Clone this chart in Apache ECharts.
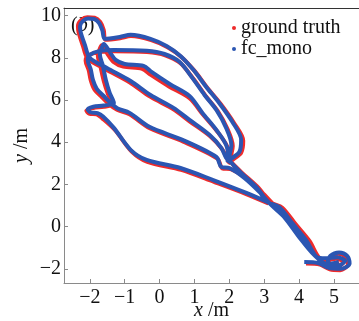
<!DOCTYPE html>
<html>
<head>
<meta charset="utf-8">
<script src="https://cdn.jsdelivr.net/npm/echarts@6/dist/echarts.min.js"></script>
<style>
html, body { margin: 0; padding: 0; background: #fff; }
#chart { width: 359px; height: 321px; }
</style>
</head>
<body>
<div id="chart"></div>
<script>
// 轨迹对比图 (b)

const seriesNames = ['ground truth', 'fc_mono'];
const xRange = [-2.74, 5.72];
const yRange = [-2.67, 10.36];

// fc_mono 轨迹, 分段读取
const fcPart1 = [[4.15,-1.67],[4.55,-1.72],[4.85,-1.95],[5.2,-2.0],[5.45,-1.75],[5.38,-1.38],[5.15,-1.22],[4.9,-1.38],[4.82,-1.72],[5.08,-1.88],[5.32,-1.62],[5.1,-1.45],[4.75,-1.5],[4.5,-1.42],[4.2,-0.63],[3.8,0.18],[3.43,0.93],[3.09,1.17],[2.77,1.88],[2.31,2.59],[2.06,3.02]];
const fcPart2 = [[1.91,3.26],[1.77,3.73],[1.43,4.35],[0.86,5.06],[0.4,5.63],[-0.26,6.24],[-0.83,6.9],[-1.51,7.52],[-2.0,8.0]];
const fcPart3 = [[-2.14,8.61],[-2.26,9.2],[-2.28,9.5],[-2.2,9.74],[-2.05,9.86],[-1.88,9.84],[-1.74,9.66],[-1.64,9.3],[-1.57,8.9],[-1.14,8.99],[-0.83,9.09],[-0.26,8.9],[0.2,8.56],[0.6,8.09],[0.97,7.43],[1.34,6.62],[1.71,5.86],[2.09,4.96],[2.34,4.11],[2.29,3.54],[2.09,3.26],[1.94,3.07]];
const fcPart4 = [[1.97,3.26],[1.91,3.87],[1.63,4.58],[1.23,5.39],[0.86,6.19],[0.29,6.76],[-0.23,7.33],[-0.46,7.62],[-1.0,7.71],[-1.26,7.9],[-1.43,8.28],[-1.6,8.66],[-1.66,8.45],[-1.71,8.14],[-1.63,7.66],[-1.54,6.95],[-1.43,6.34],[-1.31,5.86],[-1.6,5.74],[-1.9,5.68],[-2.06,5.56],[-1.98,5.42],[-1.78,5.38],[-1.62,5.22],[-1.31,4.68],[-0.83,3.64],[-0.37,3.16],[0.6,2.78],[1.54,2.21],[2.49,1.6],[3.09,1.17]];
const fcPart5 = [[2.77,1.88],[2.3,2.6],[2.06,3.02],[2.0,3.26],[2.06,3.87],[1.91,4.68],[1.63,5.53],[1.29,6.24],[0.94,7.05],[0.57,7.81],[0.14,8.18],[-0.37,8.33],[-1.31,8.37],[-1.71,8.33],[-2.0,8.14],[-2.06,7.9],[-1.97,7.43],[-1.91,6.95],[-1.8,6.53],[-1.6,6.19],[-1.4,5.86],[-1.2,5.6],[-0.86,5.39],[-0.29,4.73],[0.66,4.11],[1.63,3.3],[1.77,2.83],[2.0,2.78],[2.43,2.31],[2.86,1.65],[3.2,1.03],[3.57,0.46],[4.0,-0.49],[4.43,-1.34],[4.8,-1.77],[5.14,-1.67]];

// ground truth 轨迹
const gtPart1 = [[4.2,-1.75],[4.6,-1.8],[4.88,-2.02],[5.18,-2.06],[5.4,-1.8],[5.34,-1.44],[5.12,-1.28],[4.92,-1.44],[4.86,-1.78],[5.05,-1.93],[5.28,-1.68],[5.06,-1.52],[4.78,-1.58],[4.58,-1.48],[4.3,-0.68],[3.9,0.12],[3.52,0.9],[3.18,1.15],[2.84,1.84],[2.36,2.56],[2.1,2.98]];
const gtPart2 = [[1.95,3.2],[1.8,3.66],[1.45,4.28],[0.87,4.98],[0.41,5.55],[-0.27,6.16],[-0.85,6.83],[-1.55,7.46],[-2.06,7.96]];
const gtPart3 = [[-2.2,8.58],[-2.32,9.2],[-2.34,9.5],[-2.25,9.78],[-2.07,9.92],[-1.86,9.9],[-1.7,9.7],[-1.6,9.32],[-1.55,8.85],[-1.13,8.93],[-0.82,9.03],[-0.24,8.84],[0.23,8.5],[0.64,8.02],[1.01,7.37],[1.38,6.56],[1.76,5.8],[2.14,4.9],[2.4,4.07],[2.34,3.5],[2.12,3.2],[1.97,3.0]];
const gtPart4 = [[2.0,3.2],[1.94,3.8],[1.66,4.5],[1.25,5.3],[0.86,6.08],[0.27,6.64],[-0.26,7.2],[-0.5,7.48],[-1.04,7.58],[-1.32,7.8],[-1.5,8.2],[-1.66,8.6],[-1.72,8.4],[-1.77,8.1],[-1.7,7.62],[-1.6,6.9],[-1.48,6.28],[-1.35,5.8],[-1.6,5.68],[-1.9,5.62],[-2.1,5.5],[-2.02,5.36],[-1.8,5.32],[-1.65,5.14],[-1.28,4.58],[-0.8,3.56],[-0.35,3.07],[0.62,2.69],[1.56,2.12],[2.52,1.52],[3.12,1.1]];
const gtPart5 = [[2.82,1.82],[2.35,2.55],[2.1,2.96],[2.04,3.2],[2.1,3.82],[1.95,4.62],[1.67,5.47],[1.33,6.18],[0.98,6.98],[0.6,7.74],[0.16,8.12],[-0.36,8.27],[-1.31,8.31],[-1.73,8.28],[-2.05,8.1],[-2.12,7.86],[-2.03,7.4],[-1.97,6.92],[-1.86,6.48],[-1.65,6.13],[-1.45,5.8],[-1.22,5.54],[-0.86,5.32],[-0.28,4.66],[0.68,4.03],[1.66,3.22],[1.8,2.76],[2.04,2.72],[2.5,2.27],[2.94,1.62],[3.3,1.0],[3.67,0.42],[4.1,-0.52],[4.5,-1.38],[4.85,-1.84],[5.16,-1.74]];

const gtTrack = [].concat(gtPart1, gtPart2, gtPart3, gtPart4, gtPart5);
const fcTrack = [].concat(fcPart1, fcPart2, fcPart3, fcPart4, fcPart5);

const serif = "'Liberation Serif', 'DejaVu Serif', serif";
const axisGray = '#8a8a8a';

function minusFmt(v) {
    return String(v).replace('-', '\u2212');
}

const chart = echarts.init(document.getElementById('chart'));

const option = {
    animation: false,
    grid: { left: 64, right: 0, top: 8, bottom: 38, outerBoundsMode: 'none', containLabel: false },
    legend: {
        data: seriesNames,
        orient: 'vertical',
        left: 227,
        top: 13,
        icon: 'circle',
        itemWidth: 4,
        itemHeight: 4,
        itemGap: 1,
        textStyle: { fontFamily: serif, fontSize: 20, color: '#111' }
    },
    graphic: [{
        type: 'text',
        left: 71,
        top: 16,
        style: {
            text: '({i|b})',
            font: '20px ' + serif,
            fill: '#111',
            rich: { i: { fontStyle: 'italic', fontFamily: serif, fontSize: 20 } }
        }
    }],
    xAxis: [{
        type: 'value',
        min: xRange[0],
        max: xRange[1],
        splitNumber: 8,
        splitLine: { show: false },
        axisLine: { onZero: false, lineStyle: { color: axisGray } },
        axisTick: { inside: true, length: 4, lineStyle: { color: axisGray } },
        axisLabel: {
            showMinLabel: false, showMaxLabel: false,
            fontFamily: serif, fontSize: 20, color: '#111', margin: 5,
            formatter: minusFmt
        },
        name: '{i|x} /m',
        nameLocation: 'middle',
        nameGap: 18,
        nameMoveOverlap: false,
        nameTextStyle: {
            fontFamily: serif, fontSize: 20, color: '#111',
            rich: { i: { fontStyle: 'italic', fontFamily: serif, fontSize: 20 } }
        }
    }, {
        type: 'value',
        position: 'top',
        min: xRange[0],
        max: xRange[1],
        splitLine: { show: false },
        axisLine: { onZero: false, lineStyle: { color: '#333' } },
        axisTick: { show: false },
        axisLabel: { show: false }
    }],
    yAxis: {
        type: 'value',
        min: yRange[0],
        max: yRange[1],
        splitNumber: 6,
        splitLine: { show: false },
        axisLine: { onZero: false, lineStyle: { color: axisGray } },
        axisTick: { inside: true, length: 4, lineStyle: { color: axisGray } },
        axisLabel: {
            showMinLabel: false, showMaxLabel: false,
            fontFamily: serif, fontSize: 20, color: '#111', margin: 3,
            formatter: minusFmt
        },
        name: '{i|y} /m',
        nameLocation: 'middle',
        nameRotate: 90,
        nameGap: 32,
        nameMoveOverlap: false,
        nameTextStyle: {
            fontFamily: serif, fontSize: 20, color: '#111',
            rich: { i: { fontStyle: 'italic', fontFamily: serif, fontSize: 20 } }
        }
    },
    series: [{
        name: seriesNames[0],
        type: 'line',
        data: gtTrack,
        smooth: 0.3,
        showSymbol: false,
        itemStyle: { color: '#ee2b2b' },
        lineStyle: { color: '#ee2b2b', width: 4 }
    }, {
        name: seriesNames[1],
        type: 'line',
        data: fcTrack,
        smooth: 0.3,
        showSymbol: false,
        itemStyle: { color: '#2b56b2' },
        lineStyle: { color: '#2b56b2', width: 4 }
    }]
};

chart.setOption(option);
</script>
</body>
</html>
